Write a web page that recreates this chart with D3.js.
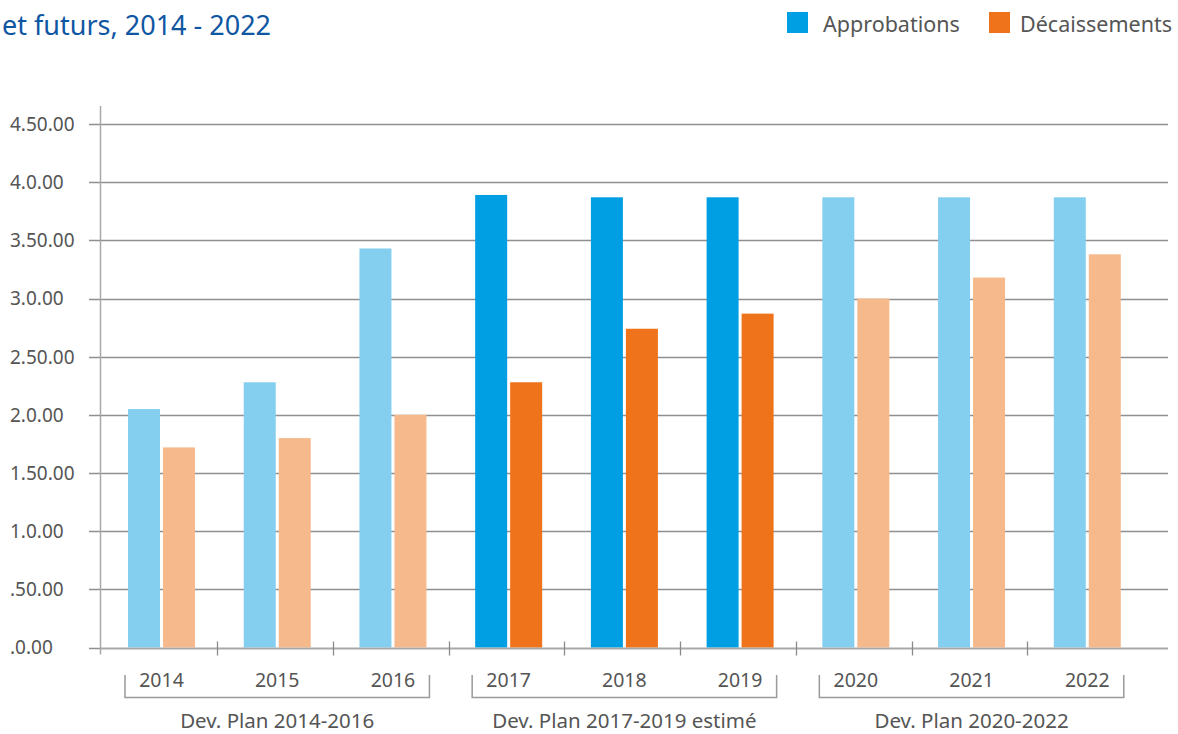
<!DOCTYPE html>
<html>
<head>
<meta charset="utf-8">
<script src="https://cdn.jsdelivr.net/npm/d3@7/dist/d3.min.js"></script>
<style>
  html, body { margin: 0; padding: 0; background: #fff; }
  #chartContainer { width: 1178px; height: 734px; }
  text { font-family: "Noto Sans", "Open Sans", sans-serif; }
</style>
</head>
<body>
<div id="chartContainer"></div>
<script>
// data
var years = ["2014", "2015", "2016", "2017", "2018", "2019", "2020", "2021", "2022"];
var approbations = [2.05, 2.28, 3.43, 3.89, 3.87, 3.87, 3.87, 3.87, 3.87];
var decaissements = [1.72, 1.80, 2.00, 2.28, 2.74, 2.87, 3.00, 3.18, 3.38];
var planLabels = ["Dev. Plan 2014-2016", "Dev. Plan 2017-2019 estimé", "Dev. Plan 2020-2022"];
var planYears = [["2014", "2016"], ["2017", "2019"], ["2020", "2022"]];
var currentPlan = 1; // plan drawn in full colour
var yTicks = [0, 0.5, 1, 1.5, 2, 2.5, 3, 3.5, 4, 4.5];
var yTickLabels = [".0.00", ".50.00", "1.0.00", "1.50.00", "2.0.00", "2.50.00", "3.0.00", "3.50.00", "4.0.00", "4.50.00"];
var seriesNames = ["Approbations", "Décaissements"];

Chart = {
	width : 1178,
	height : 734,
	left : 100, // y axis position
	right : 1168, // end of grid lines
	bandStart : 101.5,
	bandEnd : 1143, // end of last year band
	barOffset : 26.5, // first bar inside a year band
	pairWidth : 67, // two bars + gap
	top : 124,
	bottom : 647.5,
	textColor : "#555555",
	gridColor : "#8f8f8f",
	axisColor : "#a8a8a8",
	colors : {
		Approbations : { dark : "#009fe3", light : "#84cff0" },
		"Décaissements" : { dark : "#ee731a", light : "#f5b98b" }
	},

	drawChart : function(){
		var svg = d3.select("#chartContainer")
			.append("svg")
			.attr("width", Chart.width)
			.attr("height", Chart.height);

		var x0 = d3.scaleBand()
			.domain(years)
			.range([Chart.bandStart, Chart.bandEnd]);

		var x1 = d3.scaleBand()
			.domain(seriesNames)
			.range([Chart.barOffset, Chart.barOffset + Chart.pairWidth])
			.paddingInner(0.0857);

		var y = d3.scaleLinear()
			.domain([0, 4.5])
			.range([Chart.bottom, Chart.top]);

		this.drawTitle(svg);
		this.drawLegend(svg);
		this.drawGrid(svg, y);
		this.drawBars(svg, x0, x1, y);
		this.drawXAxis(svg, x0, x1);
	},

	drawTitle : function(svg){
		svg.append("text")
			.attr("x", 2)
			.attr("y", 35)
			.style("font-size", "27px")
			.style("fill", "#0f56a3")
			.text("et futurs, 2014 - 2022");
	},

	drawLegend : function(svg){
		var pos = [{ box : 787, label : 823 }, { box : 989, label : 1020 }];
		var g = svg.append("g").attr("class", "legend");
		for(var i = 0; i < seriesNames.length; i++){
			g.append("rect")
				.attr("x", pos[i].box)
				.attr("y", 12)
				.attr("width", 21)
				.attr("height", 21)
				.style("fill", Chart.colors[seriesNames[i]].dark);
			g.append("text")
				.attr("x", pos[i].label)
				.attr("y", 32)
				.style("font-size", "21.5px")
				.style("fill", Chart.textColor)
				.text(seriesNames[i]);
		}
	},

	drawGrid : function(svg, y){
		var g = svg.append("g").attr("class", "grid");

		g.selectAll("line.grid-line")
			.data(yTicks)
			.enter().append("line")
			.attr("class", "grid-line")
			.attr("x1", Chart.left - 11)
			.attr("x2", Chart.right)
			.attr("y1", function(d){ return Math.round(y(d)) + 0.5; })
			.attr("y2", function(d){ return Math.round(y(d)) + 0.5; })
			.style("stroke", Chart.gridColor)
			.style("stroke-width", 1.3);

		g.selectAll("text.y-label")
			.data(yTicks)
			.enter().append("text")
			.attr("class", "y-label")
			.attr("x", 10)
			.attr("y", function(d){ return y(d); })
			.attr("dy", ".36em")
			.style("font-size", "19px")
			.style("fill", Chart.textColor)
			.text(function(d, i){ return yTickLabels[i]; });

		// y axis line
		g.append("line")
			.attr("x1", Chart.left + 0.5)
			.attr("x2", Chart.left + 0.5)
			.attr("y1", 106)
			.attr("y2", Chart.bottom + 7)
			.style("stroke", Chart.axisColor)
			.style("stroke-width", 1.5);
	},

	planOf : function(year){
		for(var p = 0; p < planYears.length; p++){
			if(year >= planYears[p][0] && year <= planYears[p][1]) return p;
		}
		return -1;
	},

	drawBars : function(svg, x0, x1, y){
		var g = svg.append("g").attr("class", "bars");
		var rows = years.map(function(yr, i){
			return { year : yr, values : [approbations[i], decaissements[i]] };
		});

		var yearG = g.selectAll("g.year")
			.data(rows)
			.enter().append("g")
			.attr("class", "year")
			.attr("transform", function(d){ return "translate(" + x0(d.year) + ",0)"; });

		yearG.selectAll("rect")
			.data(function(d){
				var shade = Chart.planOf(d.year) == currentPlan ? "dark" : "light";
				return seriesNames.map(function(s, k){
					return { name : s, value : d.values[k], shade : shade };
				});
			})
			.enter().append("rect")
			.attr("x", function(d){ return x1(d.name); })
			.attr("width", x1.bandwidth())
			.attr("y", function(d){ return y(d.value); })
			.attr("height", function(d){ return Chart.bottom - y(d.value); })
			.style("fill", function(d){ return Chart.colors[d.name][d.shade]; });
	},

	drawXAxis : function(svg, x0, x1){
		var g = svg.append("g").attr("class", "x-axis");

		g.append("line")
			.attr("x1", Chart.left)
			.attr("x2", Chart.right)
			.attr("y1", Math.round(Chart.bottom) + 0.5)
			.attr("y2", Math.round(Chart.bottom) + 0.5)
			.style("stroke", Chart.axisColor)
			.style("stroke-width", 1.3);

		// ticks between years (first one is the y axis)
		g.selectAll("line.x-tick")
			.data(years.slice(1))
			.enter().append("line")
			.attr("class", "x-tick")
			.attr("x1", function(d){ return Math.round(x0(d)) + 0.5; })
			.attr("x2", function(d){ return Math.round(x0(d)) + 0.5; })
			.attr("y1", Chart.bottom - 6)
			.attr("y2", Chart.bottom + 8)
			.style("stroke", "#8a8a8a")
			.style("stroke-width", 1.3);

		var mid = Chart.barOffset + Chart.pairWidth / 2;

		g.selectAll("text.year-label")
			.data(years)
			.enter().append("text")
			.attr("class", "year-label")
			.attr("x", function(d){ return x0(d) + mid; })
			.attr("y", 687)
			.attr("text-anchor", "middle")
			.style("font-size", "19.5px")
			.style("fill", Chart.textColor)
			.text(function(d){ return d; });

		// brackets under each plan
		for(var p = 0; p < planYears.length; p++){
			var xs = x0(planYears[p][0]) + x1("Approbations") - 3;
			var xe = x0(planYears[p][1]) + x1("Décaissements") + x1.bandwidth() + 3;
			g.append("path")
				.attr("d", "M" + xs + ",675V697.5H" + xe + "V675")
				.style("fill", "none")
				.style("stroke", "#9a9a9a")
				.style("stroke-width", 1.5);
			g.append("text")
				.attr("x", (xs + xe) / 2)
				.attr("y", 728)
				.attr("text-anchor", "middle")
				.style("font-size", "20.5px")
				.style("fill", Chart.textColor)
				.text(planLabels[p]);
		}
	}
};

Chart.drawChart();
</script>
</body>
</html>
